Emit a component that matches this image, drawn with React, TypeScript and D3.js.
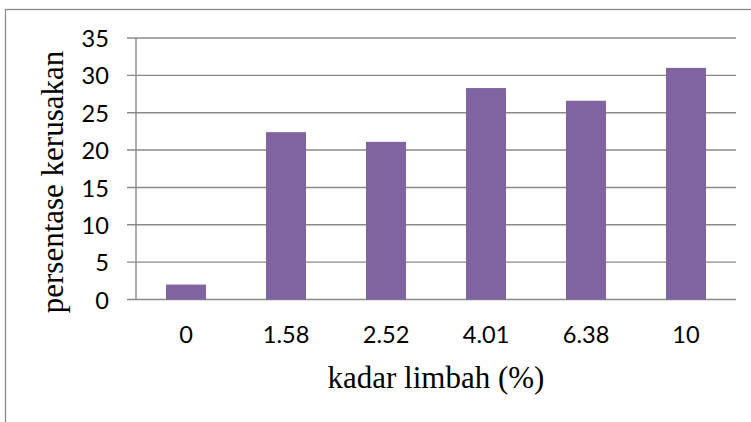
import React from "react";
import * as d3 from "d3";

// Waste concentration (%) and the resulting damage percentage
const categories: string[] = ["0", "1.58", "2.52", "4.01", "6.38", "10"];
const values: number[] = [2, 22.4, 21.1, 28.3, 26.6, 31];
const yTicks: number[] = [0, 5, 10, 15, 20, 25, 30, 35];

const W = 751;
const H = 422;
const plot = { left: 136, right: 736, top: 38, bottom: 299.5 };

export default function App() {
  const x = d3
    .scaleBand<string>()
    .domain(categories)
    .range([plot.left, plot.right])
    .paddingInner(0.6)
    .paddingOuter(0.3);
  const y = d3.scaleLinear().domain([0, 35]).range([plot.bottom, plot.top]);

  const grid = "#898989";
  const tickFont = "Lato, 'Open Sans', sans-serif";
  const tickSize = 22.5;
  const tickStretch = 1.05; // slightly wider digits for the tick labels
  const titleFont = "'Liberation Serif', 'Times New Roman', serif";

  return (
    <svg
      width={W}
      height={H}
      style={{ position: "absolute", left: 0, top: 0, background: "#fff" }}
    >
      {/* chart frame */}
      <rect x={5.5} y={9.5} width={900} height={600} fill="none" stroke="#8a8a8a" strokeWidth={1.3} />

      {/* horizontal gridlines with their tick stubs */}
      {yTicks.map((t) => (
        <line
          key={"g" + t}
          x1={plot.left - 9}
          x2={plot.right}
          y1={y(t)}
          y2={y(t)}
          stroke={grid}
          strokeWidth={1.4}
        />
      ))}

      {/* bars */}
      {values.map((v, i) => (
        <rect
          key={"b" + i}
          x={x(categories[i])!}
          y={y(v)}
          width={x.bandwidth()}
          height={y(0) - y(v)}
          fill="#8064A2"
        />
      ))}

      {/* value axis line */}
      <line x1={plot.left} x2={plot.left} y1={plot.top} y2={plot.bottom} stroke={grid} strokeWidth={1.4} />

      {/* y tick labels */}
      {yTicks.map((t) => (
        <text
          key={"yl" + t}
          transform={`translate(109,${y(t) + 1}) scale(${tickStretch},1)`}
          dy="0.36em"
          textAnchor="end"
          fontFamily={tickFont}
          fontSize={tickSize}
          fill="#000"
        >
          {t}
        </text>
      ))}

      {/* x tick labels */}
      {categories.map((c) => (
        <text
          key={"xl" + c}
          transform={`translate(${x(c)! + x.bandwidth() / 2},343) scale(${tickStretch},1)`}
          textAnchor="middle"
          fontFamily={tickFont}
          fontSize={tickSize}
          fill="#000"
        >
          {c}
        </text>
      ))}

      {/* axis titles */}
      <text
        x={(plot.left + plot.right) / 2}
        y={388}
        textAnchor="middle"
        fontFamily={titleFont}
        fontSize={31}
        fill="#000"
      >
        kadar limbah (%)
      </text>
      <text
        transform={`translate(63,182) rotate(-90)`}
        textAnchor="middle"
        fontFamily={titleFont}
        fontSize={31}
        fill="#000"
      >
        persentase kerusakan
      </text>
    </svg>
  );
}
